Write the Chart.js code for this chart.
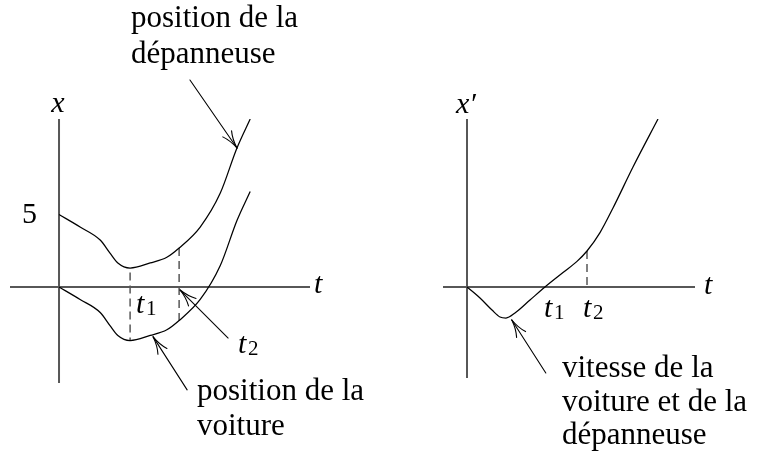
<!DOCTYPE html>
<html>
<head>
<meta charset="utf-8">
<script src="https://cdn.jsdelivr.net/npm/chart.js@4/dist/chart.umd.min.js"></script>
<style>
  html, body { margin: 0; padding: 0; background: #fff; }
  #wrap { position: relative; width: 773px; height: 457px; overflow: hidden; }
  #wrap canvas { position: absolute; left: 0; top: 0; }
</style>
</head>
<body>
<div id="wrap">
  <canvas id="pos" width="773" height="457"></canvas>
  <canvas id="vit" width="773" height="457"></canvas>
</div>
<script>
// ---- Position x(t) of the tow truck (dépanneuse) and of the car (voiture)
const tPos        = [0, 0.43, 0.84, 1.04, 1.20, 1.45, 1.86, 2.20, 2.45, 2.88, 3.29, 3.63, 3.90];
const xDepanneuse = [5.0, 4.14, 3.24, 2.34, 1.66, 1.31, 1.66, 2.05, 2.69, 4.14, 6.48, 9.59, 11.59];
const xVoiture    = [0, -0.86, -1.76, -2.66, -3.34, -3.69, -3.34, -2.95, -2.31, -0.86, 1.48, 4.59, 6.59];

// ---- Shared velocity x'(t)
const tVit     = [0, 0.325, 0.625, 0.825, 0.975, 1.20, 1.575, 1.95, 2.40, 2.75, 3.00, 3.325, 3.65, 4.15, 4.775];
const vVitesse = [0, -0.55, -1.15, -1.50, -1.55, -1.30, -0.65, 0, 0.72, 1.28, 1.80, 2.72, 3.95, 6.00, 8.40];

// ---- Marked instants on each plot
const t1Pos = 1.45, t2Pos = 2.45;
const t1Vit = 1.95, t2Vit = 3.00;

// ---- Tick on the position axis
const yTickValues = [5];
const yTickLabels = ['5'];

// ---- Captions
const captionDepanneuse = ['position de la', 'dépanneuse'];
const captionVoiture    = ['position de la', 'voiture'];
const captionVitesse    = ['vitesse de la', 'voiture et de la', 'dépanneuse'];

const AXIS = '#575757';
const INK = '#000';
const FAMILY = '"Liberation Serif"';

function pts(xs, ys) { return xs.map((x, i) => ({ x: x, y: ys[i] })); }

// style: '' or 'italic'; size in px
function put(ctx, str, x, y, size, style, align) {
  ctx.save();
  ctx.font = (style ? style + ' ' : '') + size + 'px ' + FAMILY;
  ctx.fillStyle = INK;
  ctx.textAlign = align || 'left';
  ctx.textBaseline = 'alphabetic';
  ctx.fillText(str, x, y);
  ctx.restore();
}

function caption(ctx, str, x, y) { put(ctx, str, x, y, 31, ''); }

function subLabel(ctx, base, sub, x, y) {
  put(ctx, base, x, y, 30, 'italic');
  put(ctx, sub, x + 10, y + 2, 21, '');
}

function arrow(ctx, x1, y1, x2, y2) {
  ctx.save();
  ctx.strokeStyle = INK;
  ctx.lineWidth = 1.1;
  ctx.lineCap = 'round';
  ctx.setLineDash([]);
  ctx.beginPath(); ctx.moveTo(x1, y1); ctx.lineTo(x2, y2); ctx.stroke();
  const ang = Math.atan2(y2 - y1, x2 - x1);
  const L = 18, spread = 0.30;
  for (const s of [-1, 1]) {
    const a = ang + Math.PI + s * spread;
    const bx = x2 + L * Math.cos(a), by = y2 + L * Math.sin(a);
    const m = ang + Math.PI + s * spread * 0.4;
    const cx = x2 + L * 0.55 * Math.cos(m), cy = y2 + L * 0.55 * Math.sin(m);
    ctx.beginPath(); ctx.moveTo(x2, y2); ctx.quadraticCurveTo(cx, cy, bx, by); ctx.stroke();
  }
  ctx.restore();
}

function drawAxes(chart) {
  const { ctx, chartArea: a, scales: { x, y } } = chart;
  const x0 = x.getPixelForValue(0), y0 = y.getPixelForValue(0);
  ctx.save();
  ctx.strokeStyle = AXIS;
  ctx.lineWidth = 2;
  ctx.beginPath();
  ctx.moveTo(a.left, y0); ctx.lineTo(a.right, y0);
  ctx.moveTo(x0, a.top); ctx.lineTo(x0, a.bottom);
  ctx.stroke();
  ctx.restore();
}

// arrow given by its tip (data point + pixel nudge) and tail offset from the tip
function dataArrow(chart, tx, ty, nudge, tail) {
  const { x, y } = chart.scales;
  const px = x.getPixelForValue(tx) + nudge[0];
  const py = y.getPixelForValue(ty) + nudge[1];
  arrow(chart.ctx, px + tail[0], py + tail[1], px, py);
}

function lineDS(data) {
  return { data: data, showLine: true, borderColor: INK, borderWidth: 1.25,
           pointRadius: 0, cubicInterpolationMode: 'monotone', fill: false };
}
function dashDS(data) {
  return { data: data, showLine: true, borderColor: AXIS, borderWidth: 1.5,
           borderDash: [8, 5], pointRadius: 0, tension: 0, fill: false };
}

const common = {
  responsive: false,
  animation: false,
  events: [],
  plugins: { legend: { display: false }, tooltip: { enabled: false } }
};

// ---------------- Position plot ----------------
const i1 = tPos.indexOf(t1Pos), i2 = tPos.indexOf(t2Pos);

const posDecor = {
  id: 'posDecor',
  beforeDatasetsDraw(chart) { drawAxes(chart); },
  afterDatasetsDraw(chart) {
    const { ctx, chartArea: a, scales: { x, y } } = chart;
    const x0 = x.getPixelForValue(0), y0 = y.getPixelForValue(0);
    put(ctx, 'x', x0 - 1, a.top - 7, 30, 'italic', 'center');
    put(ctx, 't', a.right + 4, y0 + 6, 30, 'italic');
    yTickValues.forEach((v, k) => put(ctx, yTickLabels[k], x0 - 22, y.getPixelForValue(v) + 8.5, 30, '', 'right'));
    subLabel(ctx, 't', '1', x.getPixelForValue(t1Pos) + 6, y0 + 26);
    subLabel(ctx, 't', '2', x.getPixelForValue(t2Pos) + 59, y0 + 66);

    captionDepanneuse.forEach((s, k) => caption(ctx, s, 131, 27 + k * 36));
    captionVoiture.forEach((s, k) => caption(ctx, s, 197, 400 + k * 35));

    dataArrow(chart, tPos[11], xDepanneuse[11], [0, 0], [-47, -68]);
    dataArrow(chart, t2Pos, 0, [1, 3], [48, 48]);
    dataArrow(chart, 1.92, -3.3, [0, 2], [34, 53]);
  }
};

new Chart(document.getElementById('pos'), {
  type: 'scatter',
  data: {
    datasets: [
      lineDS(pts(tPos, xDepanneuse)),
      lineDS(pts(tPos, xVoiture)),
      dashDS([{ x: t1Pos, y: xDepanneuse[i1] - 0.3 }, { x: t1Pos, y: xVoiture[i1] }]),
      dashDS([{ x: t2Pos, y: xDepanneuse[i2] }, { x: t2Pos, y: xVoiture[i2] }])
    ]
  },
  options: Object.assign({}, common, {
    layout: { padding: { left: 10, right: 463, top: 119, bottom: 74 } },
    scales: {
      x: { type: 'linear', min: -1, max: 5.12, display: false },
      y: { type: 'linear', min: -6.62, max: 11.59, display: false }
    }
  }),
  plugins: [posDecor]
});

// ---------------- Velocity plot ----------------
const j2 = tVit.indexOf(t2Vit);

const vitDecor = {
  id: 'vitDecor',
  beforeDatasetsDraw(chart) { drawAxes(chart); },
  afterDatasetsDraw(chart) {
    const { ctx, chartArea: a, scales: { x, y } } = chart;
    const x0 = x.getPixelForValue(0), y0 = y.getPixelForValue(0);
    put(ctx, 'x′', x0 - 11, a.top - 6, 30, 'italic');
    put(ctx, 't', a.right + 9, y0 + 7, 30, 'italic');
    subLabel(ctx, 't', '1', x.getPixelForValue(t1Vit) - 1, y0 + 30);
    subLabel(ctx, 't', '2', x.getPixelForValue(t2Vit) - 4, y0 + 30);

    captionVitesse.forEach((s, k) => caption(ctx, s, 562, 377 + k * 33.5));

    dataArrow(chart, 1.12, -1.45, [0, 4], [34, 53]);
  }
};

new Chart(document.getElementById('vit'), {
  type: 'scatter',
  data: {
    datasets: [
      lineDS(pts(tVit, vVitesse)),
      dashDS([{ x: t2Vit, y: vVitesse[j2] }, { x: t2Vit, y: 0 }])
    ]
  },
  options: Object.assign({}, common, {
    layout: { padding: { left: 443, right: 78, top: 119, bottom: 79 } },
    scales: {
      x: { type: 'linear', min: -0.6, max: 5.7, display: false },
      y: { type: 'linear', min: -4.55, max: 8.4, display: false }
    }
  }),
  plugins: [vitDecor]
});
</script>
</body>
</html>
